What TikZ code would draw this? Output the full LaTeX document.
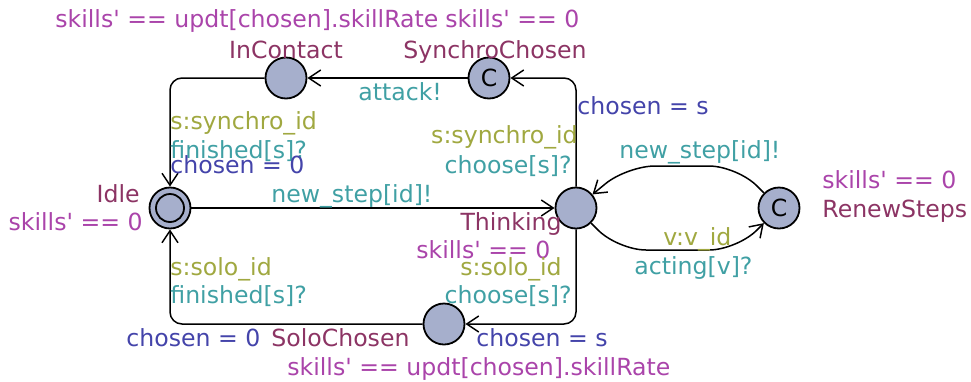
\documentclass[tikz,border=0pt]{standalone}
\usepackage{fontspec}
\setmainfont{DejaVu Sans}
\usetikzlibrary{arrows.meta}
\definecolor{statofill}{HTML}{A6AFCC}
\definecolor{nome}{HTML}{8C3464}
\definecolor{invar}{HTML}{AA44AA}
\definecolor{assegn}{HTML}{4444AA}
\definecolor{sincro}{HTML}{40A0A4}
\definecolor{selez}{HTML}{A0A840}
\newcommand{\skl}{skills\textquotesingle}
\begin{document}
\begin{tikzpicture}[x=0.5pt,y=-0.5pt,font=\fontsize{11.8}{14}\selectfont,
    stato/.style={circle,draw,line width=0.9pt,fill=statofill,minimum size=20.5pt,inner sep=0pt},
    arco/.style={-{Straight Barb[length=6pt,width=8pt]},line width=0.75pt,rounded corners=6pt},
    lab/.style={inner sep=0pt}]
        \useasboundingbox (0,0) rectangle (971,381);
        % Stati
        \node[stato] (incontact) at (286,78) {};
        \node[stato] (synchro) at (489,78) {C};
        \node[stato] (idle) at (170,208) {};
        \node[circle,draw,line width=0.9pt,minimum size=14pt,inner sep=0pt] (idlein) at (idle) {};
        \node[stato] (thinking) at (576,208) {};
        \node[stato] (renew) at (779,208) {C};
        \node[stato] (solo) at (444,324) {};
        \coordinate (a1) at (618,250);
        \coordinate (a2) at (737,250);
        \coordinate (b1) at (737,166);
        \coordinate (b2) at (627,166);
        % Archi
        \draw[arco] (synchro) -- (incontact);
        \draw[arco] (thinking.north) |- (synchro.east);
        \draw[arco] (incontact.west) -| (idle.north);
        \draw[arco] (idle) -- (thinking);
        \draw[arco] (thinking.south) |- (solo.east);
        \draw[arco] (solo.west) -| (idle.south);
        \draw[arco,rounded corners=14pt] (thinking) -- (a1) -- (a2) -- (renew);
        \draw[arco,rounded corners=14pt] (renew) -- (b1) -- (b2) -- (thinking);
        % Nomi e invarianti
        \node[lab,anchor=base,text=nome] (nincontact) at (286,58) {InContact};
        \node[lab,anchor=base west,text=invar] (iincontact) at (55,27) {\skl{} == updt[chosen].skillRate};
        \node[lab,anchor=base,text=nome] (nsynchro) at (495,58) {SynchroChosen};
        \node[lab,anchor=base west,text=invar] (isynchro) at (445,27) {\skl{} == 0};
        \node[lab,anchor=base east,text=nome] (nidle) at (140,202) {Idle};
        \node[lab,anchor=base east,text=invar] (iidle) at (143,230) {\skl{} == 0};
        \node[lab,anchor=base east,text=nome] (nthinking) at (562,230) {Thinking};
        \node[lab,anchor=base west,text=invar] (ithinking) at (416,258) {\skl{} == 0};
        \node[lab,anchor=base west,text=invar] (irenew) at (822,188) {\skl{} == 0};
        \node[lab,anchor=base west,text=nome] (nrenew) at (822,217) {RenewSteps};
        \node[lab,anchor=base west,text=nome] (nsolo) at (271,346) {SoloChosen};
        \node[lab,anchor=base west,text=invar] (isolo) at (287,375) {\skl{} == updt[chosen].skillRate};
        % Etichette degli archi
        \node[lab,anchor=base west,text=sincro] (attack) at (358,100) {attack!};
        \node[lab,anchor=base west,text=assegn] (chs1) at (577,114) {chosen = s};
        \node[lab,anchor=base east,text=selez] (sel1) at (578,143) {s:synchro\_id};
        \node[lab,anchor=base east,text=sincro] (choose1) at (572,173) {choose[s]?};
        \node[lab,anchor=base west,text=selez] (sel2) at (170,129) {s:synchro\_id};
        \node[lab,anchor=base west,text=sincro] (fin1) at (170,158) {finished[s]?};
        \node[lab,anchor=base west,text=assegn] (ch01) at (170,173) {chosen = 0};
        \node[lab,anchor=base west,text=sincro] (newstep1) at (271,202) {new\_step[id]!};
        \node[lab,anchor=base west,text=selez] (sel3) at (170,275) {s:solo\_id};
        \node[lab,anchor=base west,text=sincro] (fin2) at (170,303) {finished[s]?};
        \node[lab,anchor=base west,text=assegn] (ch02) at (126,346) {chosen = 0};
        \node[lab,anchor=base east,text=selez] (sel4) at (562,275) {s:solo\_id};
        \node[lab,anchor=base east,text=sincro] (choose2) at (572,303) {choose[s]?};
        \node[lab,anchor=base west,text=assegn] (chs2) at (476,346) {chosen = s};
        \node[lab,anchor=base west,text=sincro] (newstep2) at (619,158) {new\_step[id]!};
        \node[lab,anchor=base west,text=selez] (selv) at (663,245) {v:v\_id};
        \node[lab,anchor=base west,text=sincro] (acting) at (634,274) {acting[v]?};
    \end{tikzpicture}
\end{document}
